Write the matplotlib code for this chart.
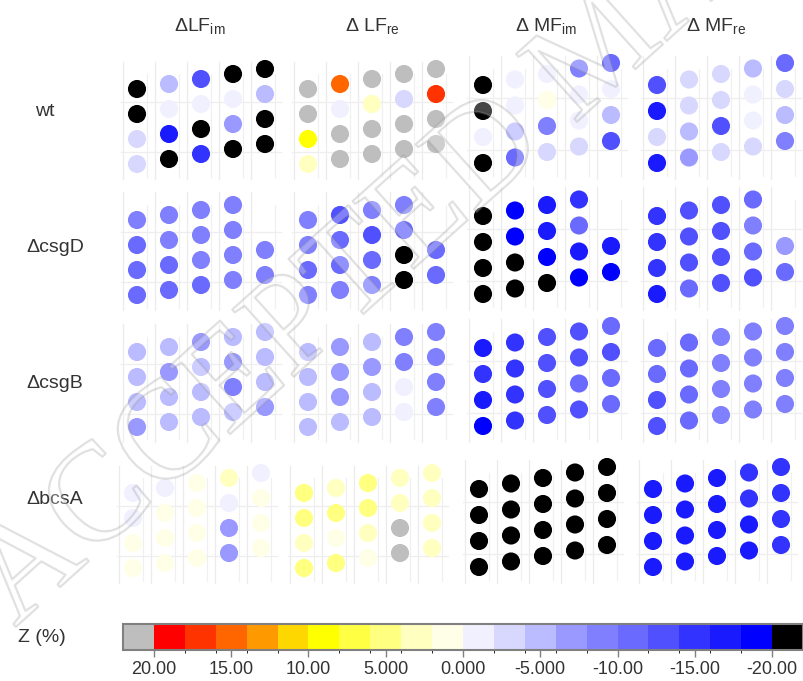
import numpy as np
import matplotlib
matplotlib.use("Agg")
import matplotlib.pyplot as plt
import matplotlib.patheffects as pe
from matplotlib.colors import ListedColormap, BoundaryNorm
from matplotlib.cm import ScalarMappable

plt.rcParams['font.family'] = ['Liberation Sans', 'DejaVu Sans']
plt.rcParams['mathtext.fontset'] = 'custom'
plt.rcParams['mathtext.rm'] = 'Liberation Sans'

nan = np.nan
strains = ["wt", "ΔcsgD", "ΔcsgB", "ΔbcsA"]
features = ["ΔLF$_{\\mathrm{im}}$", "Δ LF$_{\\mathrm{re}}$", "Δ MF$_{\\mathrm{im}}$", "Δ MF$_{\\mathrm{re}}$"]

# Z (%) per well: 4 rows x 5 columns in each panel (nan = no well)
wt_lf_im = [[-22, -5, -13, -22, -22], [-22, -1, -1, -1, -5], [-3, -17, -22, -7, -22], [-3, -22, -15, -22, -22]]
wt_lf_re = [[22, 15, 22, 22, 22], [22, -1, 3, -3, 17], [9, 22, 22, 22, 22], [3, 22, 22, 22, 22]]
wt_mf_im = [[-22, -1, -1, -9, -11], [-22, -1, 1, -1, -1], [-1, -5, -9, -1, -5], [-22, -11, -3, -3, -13]]
wt_mf_re = [[-13, -3, -3, -5, -11], [-17, -3, -3, -1, -3], [-3, -5, -13, -1, -5], [-17, -7, -3, -3, -9]]

csgd_lf_im = [[-9, -9, -9, -9, nan], [-11, -9, -9, -9, nan], [-11, -11, -9, -9, -9], [-11, -11, -11, -9, -9]]
csgd_lf_re = [[-9, -13, -9, -9, nan], [-9, -11, -13, -11, nan], [-11, -11, -11, -22, -11], [-9, -9, -9, -22, -11]]
csgd_mf_im = [[-22, -19, -17, -15, nan], [-22, -19, -17, -11, nan], [-22, -22, -19, -17, -17], [-22, -22, -22, -19, -19]]
csgd_mf_re = [[-15, -13, -13, -11, nan], [-15, -13, -13, -9, nan], [-15, -13, -13, -11, -7], [-17, -11, -13, -13, -11]]

csgb_lf_im = [[-5, -5, -7, -5, -5], [-5, -7, -5, -7, -5], [-5, -5, -5, -9, -5], [-7, -5, -5, -5, -7]]
csgb_lf_re = [[-5, -7, -5, -9, -9], [-5, -7, -7, -9, -9], [-5, -7, -5, -1, -9], [-5, -5, -5, -1, -9]]
csgb_mf_im = [[-17, -15, -13, -13, -11], [-15, -15, -13, -13, -13], [-17, -15, -13, -11, -11], [-19, -15, -13, -13, -11]]
csgb_mf_re = [[-11, -11, -9, -9, -9], [-11, -11, -9, -9, -9], [-13, -11, -9, -9, -9], [-13, -11, -9, -9, -9]]

bcsa_lf_im = [[-1, -1, 1, 3, -1], [-1, 1, 1, -1, 1], [1, 1, 1, -7, 1], [1, 1, 1, -7, 1]]
bcsa_lf_re = [[5, 3, 5, 3, 3], [5, 5, 5, 3, 3], [3, 1, 3, 22, 3], [5, 5, 1, 22, 3]]
bcsa_mf_im = [[-22, -22, -22, -22, -22]] * 4
bcsa_mf_re = [[-17, -17, -17, -15, -15], [-17, -17, -17, -15, -15], [-17, -17, -17, -17, -15], [-17, -17, -17, -17, -15]]

panels = [[wt_lf_im, wt_lf_re, wt_mf_im, wt_mf_re],
          [csgd_lf_im, csgd_lf_re, csgd_mf_im, csgd_mf_re],
          [csgb_lf_im, csgb_lf_re, csgb_mf_im, csgb_mf_re],
          [bcsa_lf_im, bcsa_lf_re, bcsa_mf_im, bcsa_mf_re]]

bounds = np.arange(-20, 21, 2)
bin_colors = ["#0000FF", "#1A1AFF", "#3333FF", "#5050FF", "#6A6AFF", "#8080FF", "#9999FF",
              "#BBBBFF", "#D8D8FF", "#F0F0FF", "#FFFFE8", "#FFFFC0", "#FFFF80", "#FFFF44",
              "#FFFF00", "#FFD700", "#FF9900", "#FF6600", "#FF3300", "#FF0000"]
cmap = ListedColormap(bin_colors)
cmap.set_under("black")
cmap.set_over("#BEBEBE")
norm = BoundaryNorm(bounds, cmap.N)

W, H = 804, 681
fig = plt.figure(figsize=(W / 100, H / 100), dpi=100)

# panel layout in pixels
x0s = [137, 308, 483, 657]
y0s = [89, 220, 352, 493]
dx = 32

for i in range(4):
    for j in range(4):
        mf = j >= 2
        dy = 26 if mf else 25
        shear = (-5.5 if mf else -5.0) / dy
        x0 = x0s[j] - (4 if i == 3 else 0)
        y0 = y0s[i] - (4 if mf else 0)
        left, right = x0 - 0.6 * dx, x0 + 4.6 * dx
        top, bottom = y0 - 1.2 * dy, y0 + 3.7 * dy
        ax = fig.add_axes([left / W, 1 - bottom / H, (right - left) / W, (bottom - top) / H])
        ax.set_xlim(-0.6, 4.6)
        ax.set_ylim(3.7, -1.2)
        ax.axis("off")
        z = np.array(panels[i][j], dtype=float)
        rows, cols = np.indices(z.shape)
        ok = ~np.isnan(z)
        for c in range(5):
            ax.plot([c - 0.45, c - 0.45], [-1.1, 3.6], color="#ebebeb", lw=0.9, zorder=0)
            ax.plot([c + 0.3, c + 0.3], [-0.6, 3.5], color="#f0f0f0", lw=0.9, zorder=0)
        for r in (0.5, 2.5):
            ax.plot([-0.5, 4.5], [r, r], color="#eeeeee", lw=0.9, zorder=0)
        ax.scatter(cols[ok], rows[ok] + shear * cols[ok], c=z[ok], cmap=cmap, norm=norm,
                   s=170, edgecolors="none", zorder=2)

# column headers and row labels
head_x = [200, 372, 546, 716]
for j in range(4):
    fig.text(head_x[j] / W, 1 - 27 / H, features[j], ha="center", va="center",
             fontsize=14, color="#333333")
row_x = [45, 55, 55, 55]
row_y = [112, 248, 383, 500]
for i in range(4):
    fig.text(row_x[i] / W, 1 - row_y[i] / H, strains[i], ha="center", va="center",
             fontsize=14, color="#333333")

# colorbar
cax = fig.add_axes([123 / W, 1 - 650 / H, 680 / W, 26 / H])
cb = fig.colorbar(ScalarMappable(norm=norm, cmap=cmap), cax=cax, orientation="horizontal",
                  extend="both", extendrect=True, ticks=np.arange(20, -21, -5))
cax.invert_xaxis()
cb.set_ticklabels(["20.00", "15.00", "10.00", "5.000", "0.000", "-5.000", "-10.00", "-15.00", "-20.00"])
cb.outline.set_edgecolor("#808080")
cb.outline.set_linewidth(1.5)
cax.tick_params(axis="x", length=5, width=1, color="#808080", labelsize=13,
                labelcolor="#333333", pad=3)
fig.text(18 / W, 1 - 637 / H, "Z (%)", ha="left", va="center", fontsize=14, color="#333333")

# watermark
fig.text(35 / W, 1 - 650 / H, "ACCEPTED MANUSCRIPT", rotation=42, fontsize=100,
         family=["Liberation Serif", "DejaVu Serif"], ha="left", va="bottom",
         color=(1, 1, 1, 0.15), rotation_mode="anchor",
         path_effects=[pe.Stroke(linewidth=1.6, foreground=(0.55, 0.55, 0.55, 0.28)), pe.Normal()])

fig.savefig("out.png", dpi=100)
